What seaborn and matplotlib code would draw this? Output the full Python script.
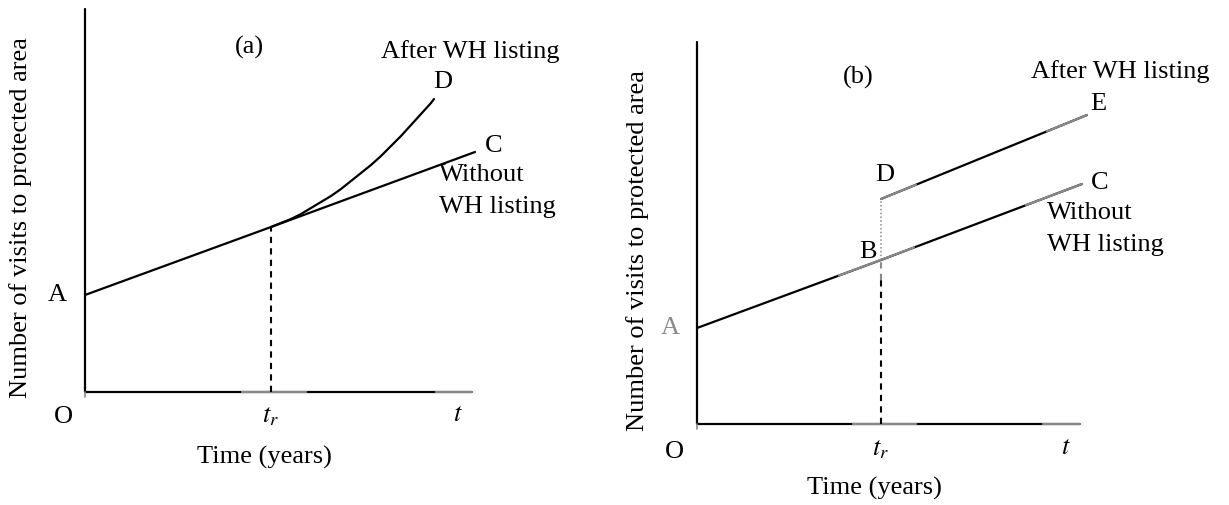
import numpy as np
import pandas as pd
import matplotlib
matplotlib.use("Agg")
import matplotlib.pyplot as plt
import seaborn as sns

sns.set_theme(style="white")
plt.rcParams["font.family"] = ["Liberation Serif", "DejaVu Serif"]
plt.rcParams["mathtext.fontset"] = "stix"
plt.rcParams["text.color"] = "black"

# ---------------- data (schematic units) ----------------
# Panel (a): gradual growth after listing
a_time = [0, 186, 390]
a_without = [97, 165, 240]
a_after_time = [186, 196, 206, 216, 226, 236, 246, 256, 266, 276, 286,
                296, 306, 316, 326, 336, 346, 349]
a_after = [165, 169, 173, 178, 184, 190, 196, 203, 211, 219, 227,
           236, 246, 256, 267, 278, 289, 293]
a_tr = 186
a_xmax, a_ymax = 387, 383

# Panel (b): jump at listing, then parallel growth
b_time = [0, 184, 385]
b_without = [96, 164, 240]
b_after_time = [184, 390]
b_after = [225, 309]
b_tr = 184
b_xmax, b_ymax = 383, 382

# grey (faded) stretches seen in the original artwork
a_xaxis_grey = [(157, 221), (351, 387)]
b_xaxis_grey = [(156, 219), (346, 383)]
b_without_grey = [(142, 217), (329, 385)]
b_after_grey = [(184, 219), (350, 390)]

BLACK = "#000000"
GREY = "#8a8a8a"
LW = 1.6
FS = 19


def line(ax, x, y, color=BLACK, lw=LW, **kw):
    sns.lineplot(x=x, y=y, color=color, lw=lw, ax=ax, sort=False,
                 estimator=None, legend=False, **kw)


def grey_over(ax, x, y, spans):
    for x0, x1 in spans:
        xs = [x0, x1]
        ys = list(np.interp(xs, x, y))
        line(ax, xs, ys, color=GREY)


fig = plt.figure(figsize=(12.29, 5.05), dpi=100)

# ---------------- panel (a) ----------------
ax = fig.add_axes([0, 0, 614 / 1229, 1])
ax.set_xlim(-85, 529)
ax.set_ylim(-113, 392)
ax.set_axis_off()

line(ax, [0, 0], [0, a_ymax])
line(ax, [0, a_xmax], [0, 0])
grey_over(ax, [0, a_xmax], [0, 0], a_xaxis_grey)
line(ax, [0, 0], [0, -5], color=GREY, lw=1.2)
line(ax, a_time, a_without)
line(ax, a_after_time, a_after)
ax.plot([a_tr, a_tr], [0, a_without[1]], color=BLACK, lw=1.5,
        dashes=(3, 2.5))

ax.text(-28, 97, "A", fontsize=FS, ha="center", va="center")
ax.text(409, 246, "C", fontsize=FS, ha="center", va="center")
ax.text(358, 310, "D", fontsize=FS, ha="center", va="center")
ax.text(385, 340, "After WH listing", fontsize=FS, ha="center", va="center")
ax.text(354, 217, "Without", fontsize=FS, ha="left", va="center")
ax.text(354, 185, "WH listing", fontsize=FS, ha="left", va="center")
ax.text(164, 345, "(a)", fontsize=FS, ha="center", va="center")
ax.text(-22, -25, "O", fontsize=FS, ha="center", va="center")
ax.text(a_tr - 1, -25, r"$t_r$", fontsize=FS, ha="center", va="center")
ax.text(373, -23, r"$t$", fontsize=FS, ha="center", va="center")
ax.text(179, -65, "Time (years)", fontsize=FS, ha="center", va="center")
ax.text(-64, 174, "Number of visits to protected area", fontsize=FS,
        ha="center", va="center", rotation=90)

# ---------------- panel (b) ----------------
bx = fig.add_axes([614 / 1229, 0, 615 / 1229, 1])
bx.set_xlim(-83, 532)
bx.set_ylim(-81, 424)
bx.set_axis_off()

line(bx, [0, 0], [0, b_ymax])
line(bx, [0, b_xmax], [0, 0])
grey_over(bx, [0, b_xmax], [0, 0], b_xaxis_grey)
line(bx, [0, 0], [0, -5], color=GREY, lw=1.2)
line(bx, b_time, b_without)
grey_over(bx, b_time, b_without, b_without_grey)
line(bx, b_after_time, b_after)
grey_over(bx, b_after_time, b_after, b_after_grey)
bx.plot([b_tr, b_tr], [b_without[1], b_after[0]], color=GREY, lw=1.1,
        dashes=(1, 1.5))
bx.plot([b_tr, b_tr], [0, b_without[1] - 20], color=BLACK, lw=1.5,
        dashes=(3, 2.5))
bx.plot([b_tr, b_tr], [b_without[1] - 20, b_without[1]], color=GREY, lw=1.5,
        dashes=(3, 2.5))

bx.text(-27, 96, "A", fontsize=FS, ha="center", va="center", color=GREY)
bx.text(171, 172, "B", fontsize=FS, ha="center", va="center")
bx.text(403, 241, "C", fontsize=FS, ha="center", va="center")
bx.text(188, 249, "D", fontsize=FS, ha="center", va="center")
bx.text(401, 320, "E", fontsize=FS, ha="center", va="center")
bx.text(161, 347, "(b)", fontsize=FS, ha="center", va="center")
bx.text(423, 352, "After WH listing", fontsize=FS, ha="center", va="center")
bx.text(350, 211, "Without", fontsize=FS, ha="left", va="center")
bx.text(350, 179, "WH listing", fontsize=FS, ha="left", va="center")
bx.text(-23, -28, "O", fontsize=FS, ha="center", va="center")
bx.text(b_tr - 1, -26, r"$t_r$", fontsize=FS, ha="center", va="center")
bx.text(369, -24, r"$t$", fontsize=FS, ha="center", va="center")
bx.text(177, -64, "Time (years)", fontsize=FS, ha="center", va="center")
bx.text(-59, 173, "Number of visits to protected area", fontsize=FS,
        ha="center", va="center", rotation=90)

fig.savefig("out.png", dpi=100)
